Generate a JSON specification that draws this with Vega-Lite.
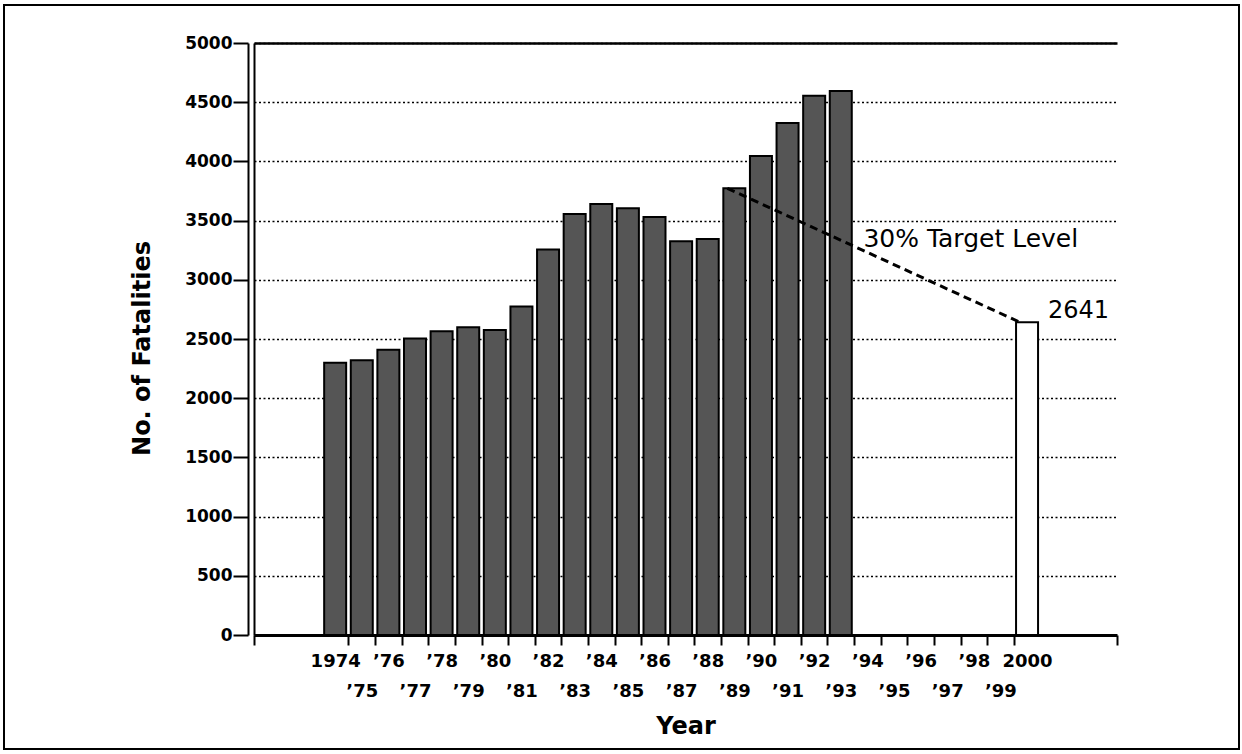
{
  "$schema": "https://vega.github.io/schema/vega-lite/v6.json",
  "width": 1235,
  "height": 744,
  "padding": {"left": 4, "top": 5, "right": 3, "bottom": 5},
  "autosize": {"type": "none"},
  "background": "white",
  "config": {
    "view": {"stroke": "black", "strokeWidth": 2},
    "font": "DejaVu Sans"
  },
  "data": {
    "values": [
      {"year": 1974, "fatalities": 2300, "kind": "actual"},
      {"year": 1975, "fatalities": 2320, "kind": "actual"},
      {"year": 1976, "fatalities": 2410, "kind": "actual"},
      {"year": 1977, "fatalities": 2505, "kind": "actual"},
      {"year": 1978, "fatalities": 2565, "kind": "actual"},
      {"year": 1979, "fatalities": 2600, "kind": "actual"},
      {"year": 1980, "fatalities": 2575, "kind": "actual"},
      {"year": 1981, "fatalities": 2775, "kind": "actual"},
      {"year": 1982, "fatalities": 3255, "kind": "actual"},
      {"year": 1983, "fatalities": 3555, "kind": "actual"},
      {"year": 1984, "fatalities": 3640, "kind": "actual"},
      {"year": 1985, "fatalities": 3605, "kind": "actual"},
      {"year": 1986, "fatalities": 3530, "kind": "actual"},
      {"year": 1987, "fatalities": 3325, "kind": "actual"},
      {"year": 1988, "fatalities": 3345, "kind": "actual"},
      {"year": 1989, "fatalities": 3773, "kind": "actual"},
      {"year": 1990, "fatalities": 4045, "kind": "actual"},
      {"year": 1991, "fatalities": 4325, "kind": "actual"},
      {"year": 1992, "fatalities": 4555, "kind": "actual"},
      {"year": 1993, "fatalities": 4595, "kind": "actual"},
      {"year": 2000, "fatalities": 2641, "kind": "target"}
    ]
  },
  "resolve": {"axis": {"x": "independent", "y": "independent"}},
  "layer": [
    {
      "mark": {"type": "bar", "orient": "vertical", "width": 22, "stroke": "black", "strokeWidth": 2},
      "encoding": {
        "x": {
          "field": "year", "type": "quantitative",
          "scale": {"domain": [1970.95, 2003.38], "range": [250, 1113], "nice": false, "zero": false, "padding": 0},
          "axis": {
            "orient": "bottom", "offset": -114,
            "values": [1970.95, 1974.5, 1975.5, 1976.5, 1977.5, 1978.5, 1979.5, 1980.5, 1981.5, 1982.5, 1983.5, 1984.5, 1985.5, 1986.5, 1987.5, 1988.5, 1989.5, 1990.5, 1991.5, 1992.5, 1993.5, 1994.5, 1995.5, 1996.5, 1997.5, 1998.5, 1999.5, 2003.38],
            "labels": false, "title": null, "grid": false,
            "domainColor": "black", "domainWidth": 3,
            "tickColor": "black", "tickWidth": 2, "tickSize": 10
          }
        },
        "y": {
          "field": "fatalities", "type": "quantitative",
          "scale": {"domain": [0, 5000], "range": [630, 38], "nice": false, "zero": true, "padding": 0},
          "axis": {
            "orient": "left", "offset": -244,
            "values": [0, 500, 1000, 1500, 2000, 2500, 3000, 3500, 4000, 4500, 5000],
            "format": "d",
            "grid": true, "gridColor": "black", "gridDash": [2, 2.5], "gridWidth": 1.6, "gridOpacity": 1,
            "domainColor": "black", "domainWidth": 2,
            "tickColor": "black", "tickSize": 15, "tickWidth": 2,
            "labelPadding": 1, "labelFont": "DejaVu Sans", "labelFontWeight": "bold", "labelFontSize": 17, "labelColor": "black",
            "title": "No. of Fatalities", "titleFont": "DejaVu Sans", "titleFontSize": 24, "titleFontWeight": "bold", "titleColor": "black",
            "titleX": -99, "titleY": 343, "titleBaseline": "alphabetic", "titleAngle": 270
          }
        },
        "color": {
          "field": "kind", "type": "nominal",
          "scale": {"domain": ["actual", "target"], "range": ["#555555", "#ffffff"]},
          "legend": null
        }
      }
    },
    {
      "data": {"values": [{"year": 1989, "fatalities": 3773}, {"year": 2000, "fatalities": 2641}]},
      "mark": {"type": "line", "color": "black", "strokeWidth": 3, "strokeDash": [8, 5], "xOffset": -7},
      "encoding": {
        "x": {
          "field": "year", "type": "quantitative",
          "scale": {"domain": [1970.95, 2003.38], "range": [250, 1113], "nice": false, "zero": false, "padding": 0},
          "axis": {
            "orient": "bottom", "offset": -114,
            "values": [1974, 1975, 1976, 1977, 1978, 1979, 1980, 1981, 1982, 1983, 1984, 1985, 1986, 1987, 1988, 1989, 1990, 1991, 1992, 1993, 1994, 1995, 1996, 1997, 1998, 1999, 2000],
            "labelExpr": "datum.value == 1974 || datum.value == 2000 ? toString(datum.value) : (datum.value % 2 == 1 ? [' ', '’' + substring(toString(datum.value), 2)] : '’' + substring(toString(datum.value), 2))",
            "ticks": false, "domain": false, "grid": false,
            "labelPadding": 17, "labelLineHeight": 30, "labelOverlap": false, "labelFlush": false, "labelBound": false,
            "labelFont": "DejaVu Sans", "labelFontWeight": "bold", "labelFontSize": 18, "labelColor": "black",
            "title": "Year", "titleFont": "DejaVu Sans", "titleFontSize": 24, "titleFontWeight": "bold", "titleColor": "black",
            "titleY": 98, "titleBaseline": "alphabetic"
          }
        },
        "y": {
          "field": "fatalities", "type": "quantitative",
          "scale": {"domain": [0, 5000], "range": [630, 38], "nice": false, "zero": true, "padding": 0},
          "axis": {
            "orient": "left", "offset": -250,
            "labels": false, "ticks": false, "grid": false, "title": null,
            "domainColor": "black", "domainWidth": 2
          }
        }
      }
    },
    {
      "transform": [{"filter": "datum.kind == 'target'"}],
      "mark": {"type": "text", "align": "left", "baseline": "alphabetic", "dx": 21, "dy": -4, "font": "DejaVu Sans", "fontSize": 24, "color": "black"},
      "encoding": {
        "x": {
          "field": "year", "type": "quantitative",
          "scale": {"domain": [1970.95, 2003.38], "range": [250, 1113], "nice": false, "zero": false, "padding": 0},
          "axis": {
            "orient": "top", "offset": -38,
            "labels": false, "ticks": false, "grid": false, "title": null,
            "domainColor": "black", "domainWidth": 2.5
          }
        },
        "y": {
          "field": "fatalities", "type": "quantitative",
          "scale": {"domain": [0, 5000], "range": [630, 38], "nice": false, "zero": true, "padding": 0},
          "axis": null
        },
        "text": {"field": "fatalities", "type": "quantitative", "format": "d"}
      }
    },
    {
      "data": {"values": [{"label": "30% Target Level"}]},
      "mark": {"type": "text", "align": "left", "baseline": "alphabetic", "font": "DejaVu Sans", "fontSize": 25, "color": "black"},
      "encoding": {
        "x": {"datum": 1993.85, "type": "quantitative", "scale": {"domain": [1970.95, 2003.38], "range": [250, 1113], "nice": false, "zero": false, "padding": 0}, "axis": null},
        "y": {"datum": 3277, "type": "quantitative", "scale": {"domain": [0, 5000], "range": [630, 38], "nice": false, "zero": true, "padding": 0}, "axis": null},
        "text": {"field": "label", "type": "nominal"}
      }
    }
  ]
}
